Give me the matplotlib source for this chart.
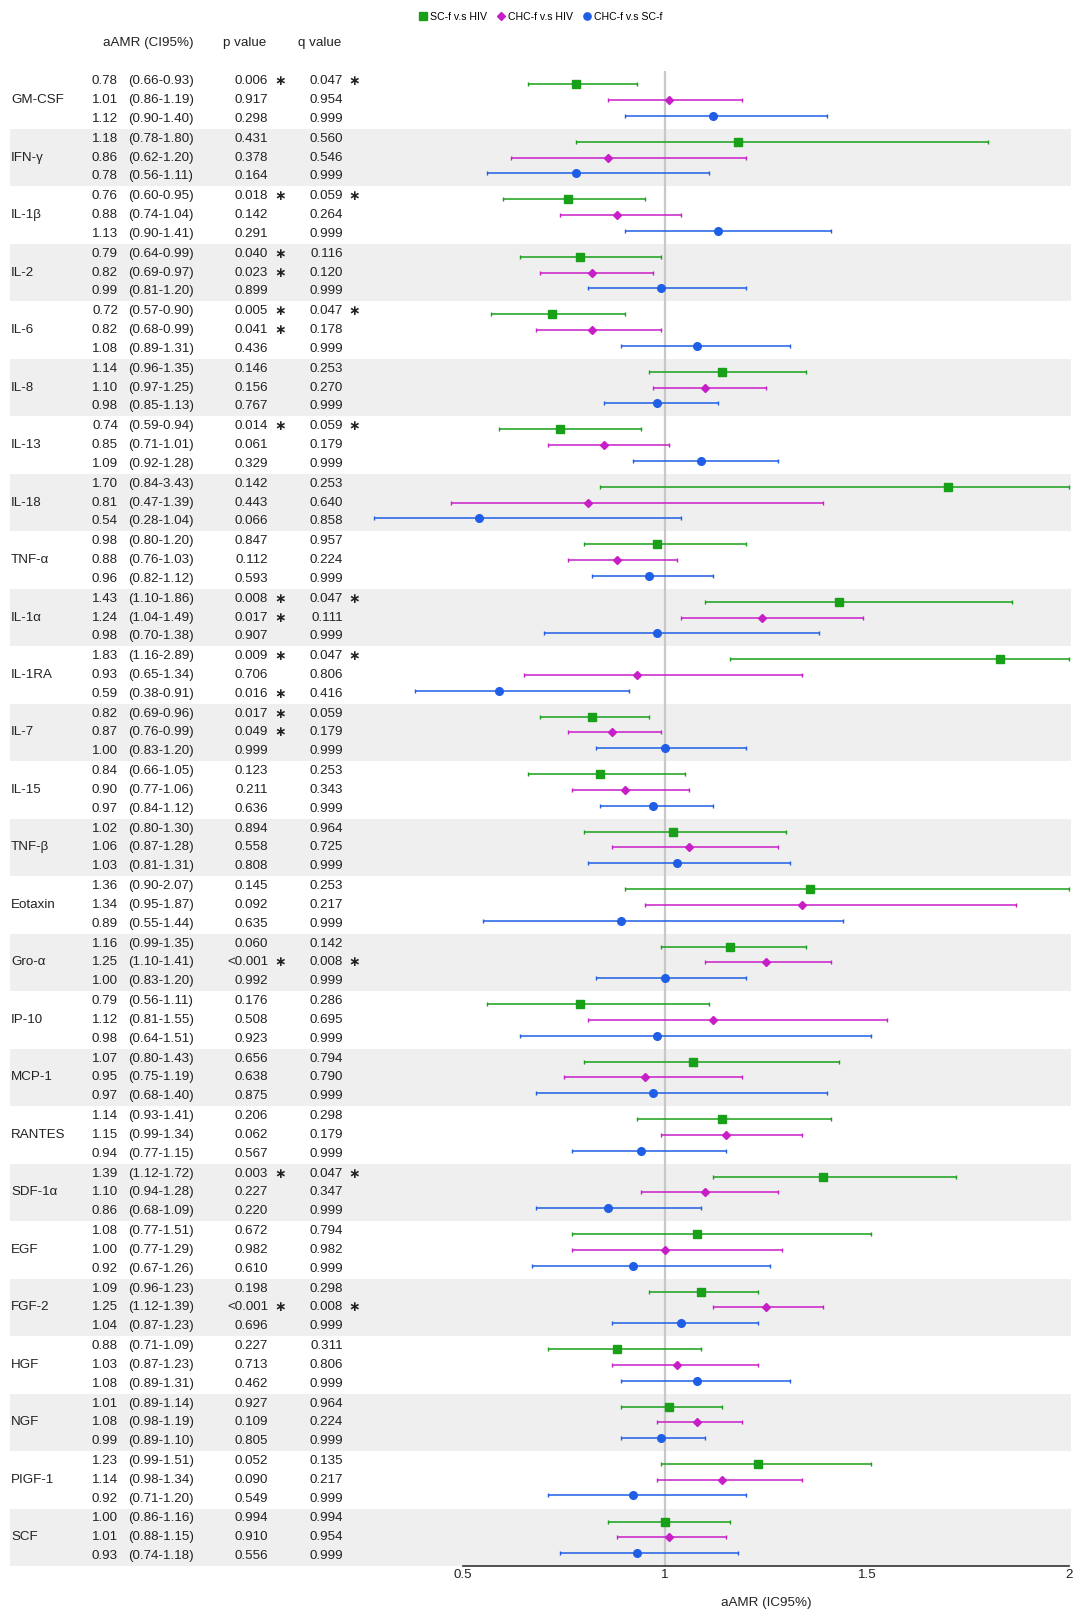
import numpy as np
import matplotlib
matplotlib.use('Agg')
import matplotlib.pyplot as plt
from matplotlib.lines import Line2D

plt.rcParams['font.family'] = ['Liberation Sans', 'DejaVu Sans']

# Datos del forest plot
cytokines = ['GM-CSF', 'IFN-γ', 'IL-1β', 'IL-2', 'IL-6', 'IL-8', 'IL-13', 'IL-18', 'TNF-α', 'IL-1α',
             'IL-1RA', 'IL-7', 'IL-15', 'TNF-β', 'Eotaxin', 'Gro-α', 'IP-10', 'MCP-1', 'RANTES',
             'SDF-1α', 'EGF', 'FGF-2', 'HGF', 'NGF', 'PIGF-1', 'SCF']

# SC-f v.s HIV
sc_hiv_est = [0.78, 1.18, 0.76, 0.79, 0.72, 1.14, 0.74, 1.70, 0.98, 1.43, 1.83, 0.82, 0.84,
              1.02, 1.36, 1.16, 0.79, 1.07, 1.14, 1.39, 1.08, 1.09, 0.88, 1.01, 1.23, 1.00]
sc_hiv_lo = [0.66, 0.78, 0.60, 0.64, 0.57, 0.96, 0.59, 0.84, 0.80, 1.10, 1.16, 0.69, 0.66,
             0.80, 0.90, 0.99, 0.56, 0.80, 0.93, 1.12, 0.77, 0.96, 0.71, 0.89, 0.99, 0.86]
sc_hiv_hi = [0.93, 1.80, 0.95, 0.99, 0.90, 1.35, 0.94, 3.43, 1.20, 1.86, 2.89, 0.96, 1.05,
             1.30, 2.07, 1.35, 1.11, 1.43, 1.41, 1.72, 1.51, 1.23, 1.09, 1.14, 1.51, 1.16]
sc_hiv_p = ['0.006*', '0.431', '0.018*', '0.040*', '0.005*', '0.146', '0.014*', '0.142', '0.847',
            '0.008*', '0.009*', '0.017*', '0.123', '0.894', '0.145', '0.060', '0.176', '0.656',
            '0.206', '0.003*', '0.672', '0.198', '0.227', '0.927', '0.052', '0.994']
sc_hiv_q = ['0.047*', '0.560', '0.059*', '0.116', '0.047*', '0.253', '0.059*', '0.253', '0.957',
            '0.047*', '0.047*', '0.059', '0.253', '0.964', '0.253', '0.142', '0.286', '0.794',
            '0.298', '0.047*', '0.794', '0.298', '0.311', '0.964', '0.135', '0.994']

# CHC-f v.s HIV
chc_hiv_est = [1.01, 0.86, 0.88, 0.82, 0.82, 1.10, 0.85, 0.81, 0.88, 1.24, 0.93, 0.87, 0.90,
               1.06, 1.34, 1.25, 1.12, 0.95, 1.15, 1.10, 1.00, 1.25, 1.03, 1.08, 1.14, 1.01]
chc_hiv_lo = [0.86, 0.62, 0.74, 0.69, 0.68, 0.97, 0.71, 0.47, 0.76, 1.04, 0.65, 0.76, 0.77,
              0.87, 0.95, 1.10, 0.81, 0.75, 0.99, 0.94, 0.77, 1.12, 0.87, 0.98, 0.98, 0.88]
chc_hiv_hi = [1.19, 1.20, 1.04, 0.97, 0.99, 1.25, 1.01, 1.39, 1.03, 1.49, 1.34, 0.99, 1.06,
              1.28, 1.87, 1.41, 1.55, 1.19, 1.34, 1.28, 1.29, 1.39, 1.23, 1.19, 1.34, 1.15]
chc_hiv_p = ['0.917', '0.378', '0.142', '0.023*', '0.041*', '0.156', '0.061', '0.443', '0.112',
             '0.017*', '0.706', '0.049*', '0.211', '0.558', '0.092', '<0.001*', '0.508', '0.638',
             '0.062', '0.227', '0.982', '<0.001*', '0.713', '0.109', '0.090', '0.910']
chc_hiv_q = ['0.954', '0.546', '0.264', '0.120', '0.178', '0.270', '0.179', '0.640', '0.224',
             '0.111', '0.806', '0.179', '0.343', '0.725', '0.217', '0.008*', '0.695', '0.790',
             '0.179', '0.347', '0.982', '0.008*', '0.806', '0.224', '0.217', '0.954']

# CHC-f v.s SC-f
chc_sc_est = [1.12, 0.78, 1.13, 0.99, 1.08, 0.98, 1.09, 0.54, 0.96, 0.98, 0.59, 1.00, 0.97,
              1.03, 0.89, 1.00, 0.98, 0.97, 0.94, 0.86, 0.92, 1.04, 1.08, 0.99, 0.92, 0.93]
chc_sc_lo = [0.90, 0.56, 0.90, 0.81, 0.89, 0.85, 0.92, 0.28, 0.82, 0.70, 0.38, 0.83, 0.84,
             0.81, 0.55, 0.83, 0.64, 0.68, 0.77, 0.68, 0.67, 0.87, 0.89, 0.89, 0.71, 0.74]
chc_sc_hi = [1.40, 1.11, 1.41, 1.20, 1.31, 1.13, 1.28, 1.04, 1.12, 1.38, 0.91, 1.20, 1.12,
             1.31, 1.44, 1.20, 1.51, 1.40, 1.15, 1.09, 1.26, 1.23, 1.31, 1.10, 1.20, 1.18]
chc_sc_p = ['0.298', '0.164', '0.291', '0.899', '0.436', '0.767', '0.329', '0.066', '0.593',
            '0.907', '0.016*', '0.999', '0.636', '0.808', '0.635', '0.992', '0.923', '0.875',
            '0.567', '0.220', '0.610', '0.696', '0.462', '0.805', '0.549', '0.556']
chc_sc_q = ['0.999', '0.999', '0.999', '0.999', '0.999', '0.999', '0.999', '0.858', '0.999',
            '0.999', '0.416', '0.999', '0.999', '0.999', '0.999', '0.999', '0.999', '0.999',
            '0.999', '0.999', '0.999', '0.999', '0.999', '0.999', '0.999', '0.999']

comparaciones = [
    ('SC-f v.s HIV', sc_hiv_est, sc_hiv_lo, sc_hiv_hi, sc_hiv_p, sc_hiv_q, '#18a018', 's', 6.0),
    ('CHC-f v.s HIV', chc_hiv_est, chc_hiv_lo, chc_hiv_hi, chc_hiv_p, chc_hiv_q, '#c81ec8', 'D', 4.3),
    ('CHC-f v.s SC-f', chc_sc_est, chc_sc_lo, chc_sc_hi, chc_sc_p, chc_sc_q, '#1f5fe6', 'o', 5.5),
]

W, H = 1073, 1613
fig = plt.figure(figsize=(W / 100, H / 100), dpi=100)
ax = fig.add_axes([0, 47 / H, 1, 1566 / H])

centros = np.arange(len(cytokines)) * 3
xmax = 2.0
txt_col = '#222222'
fs = 9.6

# Bandas grises alternas
for g in range(1, len(cytokines), 2):
    ax.axhspan(centros[g] - 1.5, centros[g] + 1.5, xmin=10 / W, xmax=0.998,
               color='#efefef', lw=0, zorder=0)

ax.vlines(1, -1.5, centros[-1] + 1.5, color='#c8c8c8', lw=1.6, zorder=1)

yt = ax.get_yaxis_transform()
off_mark = [-0.82, 0, 0.82]
off_txt = [-0.98, 0, 0.98]

for k, (nombre, est, lo, hi, pv, qv, color, mk, ms) in enumerate(comparaciones):
    est = np.array(est)
    lo = np.array(lo)
    hi = np.array(hi)
    hi_c = np.minimum(hi, xmax)
    y = centros + off_mark[k]
    ax.errorbar(est, y, xerr=[est - lo, hi_c - est], fmt=mk, color=color, ms=ms,
                lw=1.1, elinewidth=1.1, capsize=1.6, capthick=1.0, zorder=3)

    for g in range(len(cytokines)):
        yy = centros[g] + off_txt[k]
        ax.text(118 / W, yy, f'{est[g]:.2f}', transform=yt, ha='right', va='center',
                fontsize=fs, color=txt_col)
        ax.text(128 / W, yy, f'({lo[g]:.2f}-{hi[g]:.2f})', transform=yt, ha='left',
                va='center', fontsize=fs, color=txt_col)
        ax.text(268 / W, yy, pv[g].rstrip('*'), transform=yt, ha='right', va='center',
                fontsize=fs, color=txt_col)
        if pv[g].endswith('*'):
            ax.text(280 / W, yy, '∗', transform=yt, ha='center', va='center',
                    fontsize=10, fontweight='bold', color=txt_col, family='DejaVu Sans')
        ax.text(343 / W, yy, qv[g].rstrip('*'), transform=yt, ha='right', va='center',
                fontsize=fs, color=txt_col)
        if qv[g].endswith('*'):
            ax.text(354 / W, yy, '∗', transform=yt, ha='center', va='center',
                    fontsize=10, fontweight='bold', color=txt_col, family='DejaVu Sans')

for g, nombre in enumerate(cytokines):
    ax.text(11 / W, centros[g], nombre, transform=yt, ha='left', va='center',
            fontsize=fs, color=txt_col)

# Encabezados
fig.text(103 / W, 1 - 43 / H, 'aAMR (CI95%)', ha='left', va='center', fontsize=fs, color=txt_col)
fig.text(223 / W, 1 - 43 / H, 'p value', ha='left', va='center', fontsize=fs, color=txt_col)
fig.text(298 / W, 1 - 43 / H, 'q value', ha='left', va='center', fontsize=fs, color=txt_col)

# Leyenda
handles = [Line2D([], [], ls='none', marker=c[7], color=c[6], ms=c[8] * 0.95) for c in comparaciones]
fig.legend(handles, [c[0] for c in comparaciones], loc='center',
           bbox_to_anchor=(540 / W, 1 - 17 / H), ncol=3, frameon=False, fontsize=7.6,
           handletextpad=0.2, columnspacing=0.9, handlelength=0.9, borderpad=0)

# Ejes
ax.set_xlim(0.5 - 463 / 404, 0.5 + (W - 463) / 404)
ax.set_ylim(centros[-1] + 1.5, -(100.2 / 19.17))
for s in ['top', 'left', 'right']:
    ax.spines[s].set_visible(False)
ax.spines['bottom'].set_bounds(0.5, 2)
ax.spines['bottom'].set_color('#333333')
ax.spines['bottom'].set_linewidth(1.2)
ax.set_yticks([])
ax.set_xticks([0.5, 1, 1.5, 2])
ax.set_xticklabels(['0.5', '1', '1.5', '2'])
ax.set_xticks([0.5, 2], minor=True)
ax.tick_params(axis='x', which='major', length=0, pad=2.5, labelsize=fs, labelcolor=txt_col)
ax.tick_params(axis='x', which='minor', length=6, width=1.2, direction='inout', color='#333333')
ax.set_facecolor('none')

fig.text(766 / W, 1 - 1603 / H, 'aAMR (IC95%)', ha='center', va='center', fontsize=fs, color=txt_col)

fig.savefig('out.png', dpi=100)
